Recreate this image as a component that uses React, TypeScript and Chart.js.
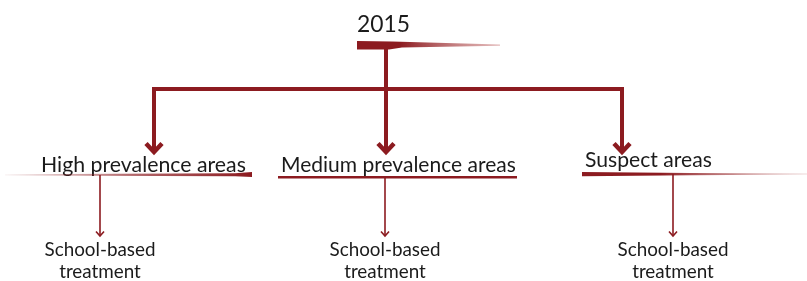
import React, { useEffect, useRef } from "react";
import { Chart, registerables } from "chart.js";

Chart.register(...registerables);

// ---- content ----
const rootLabel = "2015";
const categories = ["High prevalence areas", "Medium prevalence areas", "Suspect areas"];
const childLines = ["School-based", "treatment"];

// ---- layout (chart units = pixels of the 807x281 page) ----
const branchX = [154, 386, 622];
const labelLeft = [41, 281, 585];
const labelWidth = [205, 235, 127];
const labelBaseline = [172, 172, 167];
const childX = [100, 385, 673];
const underlineY = [175, 177, 174];

const DARK = "#8c1b20";
const TEXT = "#1b1b1b";
const FAMILY = "Lato, 'Open Sans', 'DejaVu Sans', sans-serif";

function fitSize(ctx: CanvasRenderingContext2D, text: string, w: number) {
  ctx.font = `100px ${FAMILY}`;
  return (100 * w) / ctx.measureText(text).width;
}

const flowPlugin = {
  id: "flow",
  afterDraw(chart: any) {
    const ctx: CanvasRenderingContext2D = chart.ctx;
    const xs = chart.scales.x;
    const ys = chart.scales.y;
    const X = (v: number) => xs.getPixelForValue(v);
    const Y = (v: number) => ys.getPixelForValue(v);
    ctx.save();

    // root label
    const rs = fitSize(ctx, rootLabel, 53);
    ctx.font = `${rs}px ${FAMILY}`;
    ctx.fillStyle = TEXT;
    ctx.textBaseline = "alphabetic";
    ctx.textAlign = "left";
    ctx.fillText(rootLabel, X(357), Y(32));

    // tapered bar under root
    let g = ctx.createLinearGradient(X(357), 0, X(500), 0);
    g.addColorStop(0, DARK);
    g.addColorStop(0.3, DARK);
    g.addColorStop(1, "rgba(200,120,120,0.5)");
    ctx.fillStyle = g;
    ctx.beginPath();
    ctx.moveTo(X(357), Y(41));
    ctx.lineTo(X(392), Y(41.5));
    ctx.lineTo(X(500), Y(44.4));
    ctx.lineTo(X(500), Y(45.8));
    ctx.lineTo(X(402), Y(47.5));
    ctx.lineTo(X(389), Y(49.5));
    ctx.lineTo(X(357), Y(49.5));
    ctx.closePath();
    ctx.fill();

    ctx.strokeStyle = DARK;
    ctx.fillStyle = DARK;
    // trunk
    ctx.lineWidth = 4;
    ctx.beginPath();
    ctx.moveTo(X(386), Y(49));
    ctx.lineTo(X(386), Y(90));
    ctx.stroke();
    // horizontal connector
    ctx.beginPath();
    ctx.moveTo(X(branchX[0] - 2), Y(89));
    ctx.lineTo(X(branchX[2] + 2), Y(89));
    ctx.stroke();

    // branch arrows
    branchX.forEach((bx) => {
      ctx.lineWidth = 4;
      ctx.lineCap = "butt";
      ctx.beginPath();
      ctx.moveTo(X(bx), Y(87));
      ctx.lineTo(X(bx), Y(151));
      ctx.stroke();
      ctx.lineWidth = 4.5;
      ctx.lineJoin = "miter";
      ctx.beginPath();
      ctx.moveTo(X(bx - 8), Y(143.5));
      ctx.lineTo(X(bx), Y(152));
      ctx.lineTo(X(bx + 8), Y(143.5));
      ctx.stroke();
    });

    // category labels
    categories.forEach((c, i) => {
      const s = fitSize(ctx, c, labelWidth[i]);
      ctx.font = `${s}px ${FAMILY}`;
      ctx.fillStyle = TEXT;
      ctx.textAlign = "left";
      ctx.fillText(c, X(labelLeft[i]), Y(labelBaseline[i]));
    });

    // underlines
    // high: fades in from the left, thicker at the right end
    g = ctx.createLinearGradient(X(5), 0, X(252), 0);
    g.addColorStop(0, "rgba(140,27,32,0.05)");
    g.addColorStop(0.5, "rgba(140,27,32,0.65)");
    g.addColorStop(1, DARK);
    ctx.fillStyle = g;
    ctx.beginPath();
    ctx.moveTo(X(5), Y(174.2));
    ctx.lineTo(X(235), Y(173.2));
    ctx.lineTo(X(252), Y(172));
    ctx.lineTo(X(252), Y(177));
    ctx.lineTo(X(235), Y(176.3));
    ctx.lineTo(X(5), Y(175.4));
    ctx.closePath();
    ctx.fill();

    // medium: plain line
    ctx.fillStyle = DARK;
    ctx.fillRect(X(278), Y(176), X(517) - X(278), Y(178.5) - Y(176));

    // suspect: fades out to the right
    g = ctx.createLinearGradient(X(582), 0, X(807), 0);
    g.addColorStop(0, DARK);
    g.addColorStop(0.35, DARK);
    g.addColorStop(1, "rgba(190,110,110,0.25)");
    ctx.fillStyle = g;
    ctx.beginPath();
    ctx.moveTo(X(582), Y(172));
    ctx.lineTo(X(690), Y(173));
    ctx.lineTo(X(807), Y(173.4));
    ctx.lineTo(X(807), Y(174.4));
    ctx.lineTo(X(690), Y(175.3));
    ctx.lineTo(X(582), Y(176.3));
    ctx.closePath();
    ctx.fill();

    // child arrows and labels
    const cs = fitSize(ctx, childLines[0], 111);
    childX.forEach((cx, i) => {
      ctx.strokeStyle = DARK;
      ctx.lineWidth = 1.6;
      ctx.beginPath();
      ctx.moveTo(X(cx), Y(underlineY[i]));
      ctx.lineTo(X(cx), Y(236));
      ctx.stroke();
      ctx.lineWidth = 1.6;
      ctx.beginPath();
      ctx.moveTo(X(cx - 4), Y(231.5));
      ctx.lineTo(X(cx), Y(236));
      ctx.lineTo(X(cx + 4), Y(231.5));
      ctx.stroke();

      ctx.font = `${cs}px ${FAMILY}`;
      ctx.fillStyle = TEXT;
      ctx.textAlign = "center";
      childLines.forEach((t, j) => {
        ctx.fillText(t, X(cx), Y(256 + j * 22));
      });
    });

    ctx.restore();
  },
};

export default function App() {
  const ref = useRef<HTMLCanvasElement>(null);
  useEffect(() => {
    if (!ref.current) return;
    const nodes = branchX.map((x, i) => ({ x, y: labelBaseline[i] }));
    const chart = new Chart(ref.current, {
      type: "scatter",
      data: {
        datasets: [
          {
            label: "nodes",
            data: nodes,
            pointRadius: 0,
            pointHoverRadius: 0,
          },
        ],
      },
      options: {
        animation: false,
        responsive: false,
        events: [],
        layout: { padding: 0 },
        plugins: { legend: { display: false }, tooltip: { enabled: false } },
        scales: {
          x: { type: "linear", min: 0, max: 807, display: false },
          y: { type: "linear", min: 0, max: 281, reverse: true, display: false },
        },
      },
      plugins: [flowPlugin],
    });
    return () => chart.destroy();
  }, []);
  return (
    <div style={{ position: "fixed", left: 0, top: 0, width: 807, height: 281, background: "#fff" }}>
      <canvas ref={ref} width={807} height={281} style={{ width: 807, height: 281 }} />
    </div>
  );
}
